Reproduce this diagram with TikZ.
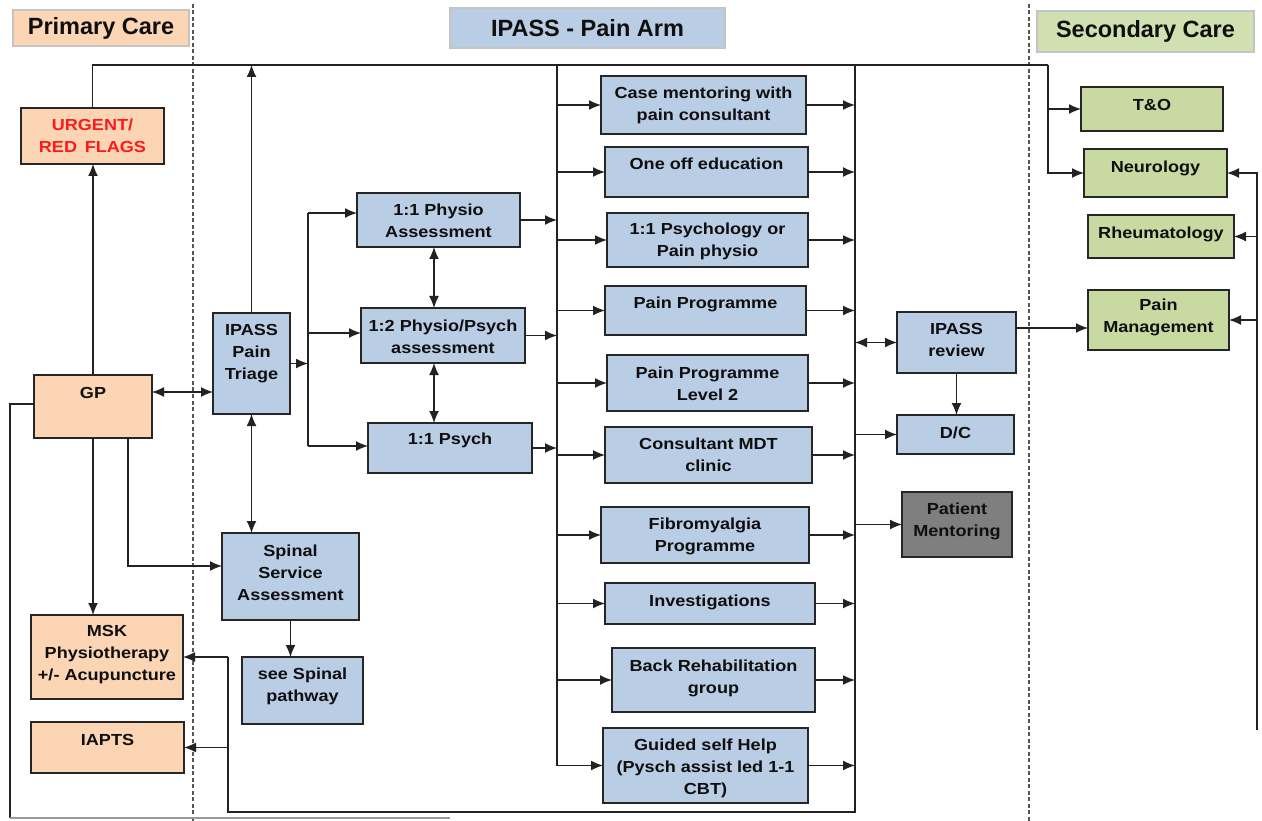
\documentclass[tikz,border=0pt]{standalone}
\usepackage{fontspec}
\setmainfont{Liberation Sans}
\newfontfamily\boxfont[FakeStretch=1.13]{Liberation Sans}
\usetikzlibrary{arrows.meta}

\definecolor{boxblue}{HTML}{B9CDE5}
\definecolor{boxpeach}{HTML}{FCD5B5}
\definecolor{boxgreen}{HTML}{C8DAA2}
\definecolor{boxgray}{HTML}{7F7F7F}
\definecolor{hdrline}{HTML}{C4C4C4}
\definecolor{linedark}{HTML}{222222}
\definecolor{divgray}{HTML}{555555}
\definecolor{txtdark}{HTML}{0F0F0F}
\definecolor{urgred}{HTML}{FF1A1A}

\tikzset{
  tip/.tip={Latex[length=12pt,width=10pt]},
  conn/.style={draw=linedark, line width=1.4pt},
  arr/.style={conn, -tip},
  darr/.style={conn, tip-tip},
  bx/.style={draw=black!85, line width=1.5pt, inner sep=0pt, outer sep=0pt},
  bluebox/.style={bx, fill=boxblue},
  peachbox/.style={bx, fill=boxpeach},
  greenbox/.style={bx, fill=boxgreen},
  graybox/.style={bx, fill=boxgray},
  hdrbox/.style={draw=hdrline, line width=1.5pt, inner sep=0pt, outer sep=0pt},
  boxtext/.style={font=\boxfont\bfseries\fontsize{16}{22}\selectfont, align=center, inner sep=0pt, text=txtdark},
  hdrtext/.style={font=\bfseries\fontsize{23.5}{28}\selectfont, inner sep=0pt, text=txtdark},
  divider/.style={draw=divgray, line width=1.5pt, dash pattern=on 4pt off 2.5pt},
}

% box given by its corners (x1,y1,x2,y2), with its text centred at height #8
\newcommand\tbox[9][]{%
  \node[#3, minimum width={#6-#4}, minimum height={#7-#5}] (#2) at ({(#4+#6)/2},{(#5+#7)/2}) {};
  \node[boxtext, #1] (#2-t) at ({(#4+#6)/2},{#8}) {#9};}
% header box
\newcommand\hdr[7]{%
  \node[hdrbox, fill=#2, minimum width={#5-#3}, minimum height={#6-#4}] (#1) at ({(#3+#5)/2},{(#4+#6)/2}) {};
  \node[hdrtext] (#1-t) at (#1) {#7};}

\begin{document}
\begin{tikzpicture}[x=1pt, y=-1pt]
\useasboundingbox (0,0) rectangle (1262,821);
\fill[white] (0,0) rectangle (1262,821);

% column dividers
\draw[divider] (193,4) -- (193,821);
\draw[divider] (1029,4) -- (1029,821);

% headers
\hdr{hpc}{boxpeach}{13}{10}{189}{46}{Primary Care}
\hdr{hip}{boxblue}{450}{8}{725}{48}{IPASS - Pain Arm}
\hdr{hsc}{boxgreen!85!white}{1037}{11}{1254}{52}{Secondary Care}

% primary care
\tbox[text=urgred]{urg}{peachbox}{21}{108}{164}{164}{136}{URGENT/\\RED\, FLAGS}
\tbox{gp}{peachbox}{34}{375}{152}{438}{393}{GP}
\tbox{msk}{peachbox}{31}{615}{183}{699}{655}{MSK\\Physiotherapy\\+/- Acupuncture}
\tbox{iapts}{peachbox}{31}{722}{184}{773}{740}{IAPTS}

% triage and assessments
\tbox{tri}{bluebox}{213}{313}{290}{414}{354}{IPASS\\Pain\\Triage}
\tbox{spa}{bluebox}{222}{533}{359}{620}{573}{Spinal\\Service\\Assessment}
\tbox{ssp}{bluebox}{242}{657}{363}{724}{686}{see Spinal\\pathway}
\tbox{p11}{bluebox}{357}{193}{520}{247}{221}{1:1 Physio\\Assessment}
\tbox{p12}{bluebox}{361}{308}{525}{363}{337}{1:2 Physio/Psych\\assessment}
\tbox{ps11}{bluebox}{368}{423}{532}{473}{440}{1:1 Psych}

% interventions
\tbox{cm}{bluebox}{601}{76}{806}{134}{105}{Case mentoring with\\pain consultant}
\tbox{ooe}{bluebox}{605}{147}{808}{197}{164}{One off education}
\tbox{psy}{bluebox}{607}{213}{808}{267}{241}{1:1 Psychology or\\Pain physio}
\tbox{pp}{bluebox}{605}{286}{806}{335}{304}{Pain Programme}
\tbox{pp2}{bluebox}{607}{355}{808}{411}{384}{Pain Programme\\Level 2}
\tbox{mdt}{bluebox}{605}{427}{812}{483}{455}{Consultant MDT\\clinic}
\tbox{fib}{bluebox}{601}{507}{809}{563}{536}{Fibromyalgia\\Programme}
\tbox{inv}{bluebox}{605}{583}{815}{624}{602}{Investigations}
\tbox{brg}{bluebox}{612}{648}{815}{712}{678}{Back Rehabilitation\\group}
\tbox{gsh}{bluebox}{603}{728}{808}{803}{768}{Guided self Help\\(Pysch assist led 1-1\\CBT)}

% review and outcomes
\tbox{rev}{bluebox}{897}{312}{1016}{373}{340}{IPASS\\review}
\tbox{dc}{bluebox}{897}{415}{1014}{454}{433}{D/C}
\tbox{pm}{graybox}{902}{492}{1012}{557}{521}{Patient\\Mentoring}

% secondary care
\tbox{to}{greenbox}{1081}{87}{1223}{131}{105}{T\&O}
\tbox{neu}{greenbox}{1084}{149}{1227}{197}{168}{Neurology}
\tbox{rhe}{greenbox}{1088}{215}{1234}{258}{234}{Rheumatology}
\tbox{pmg}{greenbox}{1088}{290}{1229}{350}{317}{Pain\\Management}

% routing points
\coordinate (topR) at (1048,65);
\coordinate (busL) at (557,65);
\coordinate (busR) at (855,65);
\coordinate (busRend) at (855,812);
\coordinate (loop) at (228,812);
\coordinate (fork) at (308,363.5);
\coordinate (forkT) at (308,213);
\coordinate (forkM) at (308,333);
\coordinate (forkB) at (308,446);
\coordinate (gpL) at (10,404);
\coordinate (gpLend) at (10,818);
\coordinate (gpLfar) at (450,818);
\coordinate (gpS2) at (128,438);
\coordinate (xR) at (1257,172);
\coordinate (xRend) at (1257,730);
\coordinate (c434) at (434,0);
\coordinate (y392) at (0,392);
\coordinate (y404) at (0,404);
\coordinate (y566) at (0,566);
\coordinate (y328) at (0,328);

% top line to secondary care
\draw[conn] (urg.north) |- (topR);
\draw[arr] (topR) |- (neu.west);
\draw[arr] (topR |- to.west) -- (to.west);
\draw[arr] (tri.north) -- (tri.north |- topR);

% GP links
\draw[arr] (gp.north) -- (gp.north |- urg.south);
\draw[darr] (gp.east |- y392) -- (tri.west |- y392);
\draw[arr] (gp.south) -- (gp.south |- msk.north);
\draw[arr] (gpS2) |- (spa.west |- y566);
\draw[conn] (gp.west |- y404) -- (gpL) -- (gpLend);
\draw[conn, draw=black!40] (gpLend) -- (gpLfar);

% triage
\draw[darr] (tri.south) -- (tri.south |- spa.north);
\draw[arr] (spa.south) -- (spa.south |- ssp.north);
\draw[arr] (tri.east) -- (fork);
\draw[conn] (forkT) -- (forkB);
\draw[arr] (forkT) -- (forkT -| p11.west);
\draw[arr] (forkM) -- (forkM -| p12.west);
\draw[arr] (forkB) -- (forkB -| ps11.west);
\draw[darr] (p11.south -| c434) -- (p12.north -| c434);
\draw[darr] (p12.south -| c434) -- (ps11.north -| c434);
\foreach \n in {p11,p12,ps11} \draw[arr] (\n.east) -- (\n.east -| busL);

% distribution bus
\draw[arr] (busL) |- (gsh.west);
\foreach \n in {cm,ooe,psy,pp,pp2,mdt,fib,inv,brg} \draw[arr] (\n.west -| busL) -- (\n.west);

% collection bus
\foreach \n in {cm,ooe,psy,pp,pp2,mdt,fib,inv,brg,gsh} \draw[arr] (\n.east) -- (\n.east -| busR);
\draw[conn] (busR) -- (busRend) -- (loop) -- (loop |- msk.east);
\draw[arr] (loop |- msk.east) -- (msk.east);
\draw[arr] (loop |- iapts.east) -- (iapts.east);
\draw[darr] (rev.west -| busR) -- (rev.west);
\draw[arr] (dc.west -| busR) -- (dc.west);
\draw[arr] (pm.west -| busR) -- (pm.west);
\draw[arr] (rev.south) -- (rev.south |- dc.north);
\draw[arr] (rev.east |- y328) -- (pmg.west |- y328);

% right-hand feed
\draw[conn] (xR) -- (xRend);
\draw[arr] (neu.east -| xR) -- (neu.east);
\draw[arr] (rhe.east -| xR) -- (rhe.east);
\draw[arr] (pmg.east -| xR) -- (pmg.east);
\end{tikzpicture}
\end{document}
